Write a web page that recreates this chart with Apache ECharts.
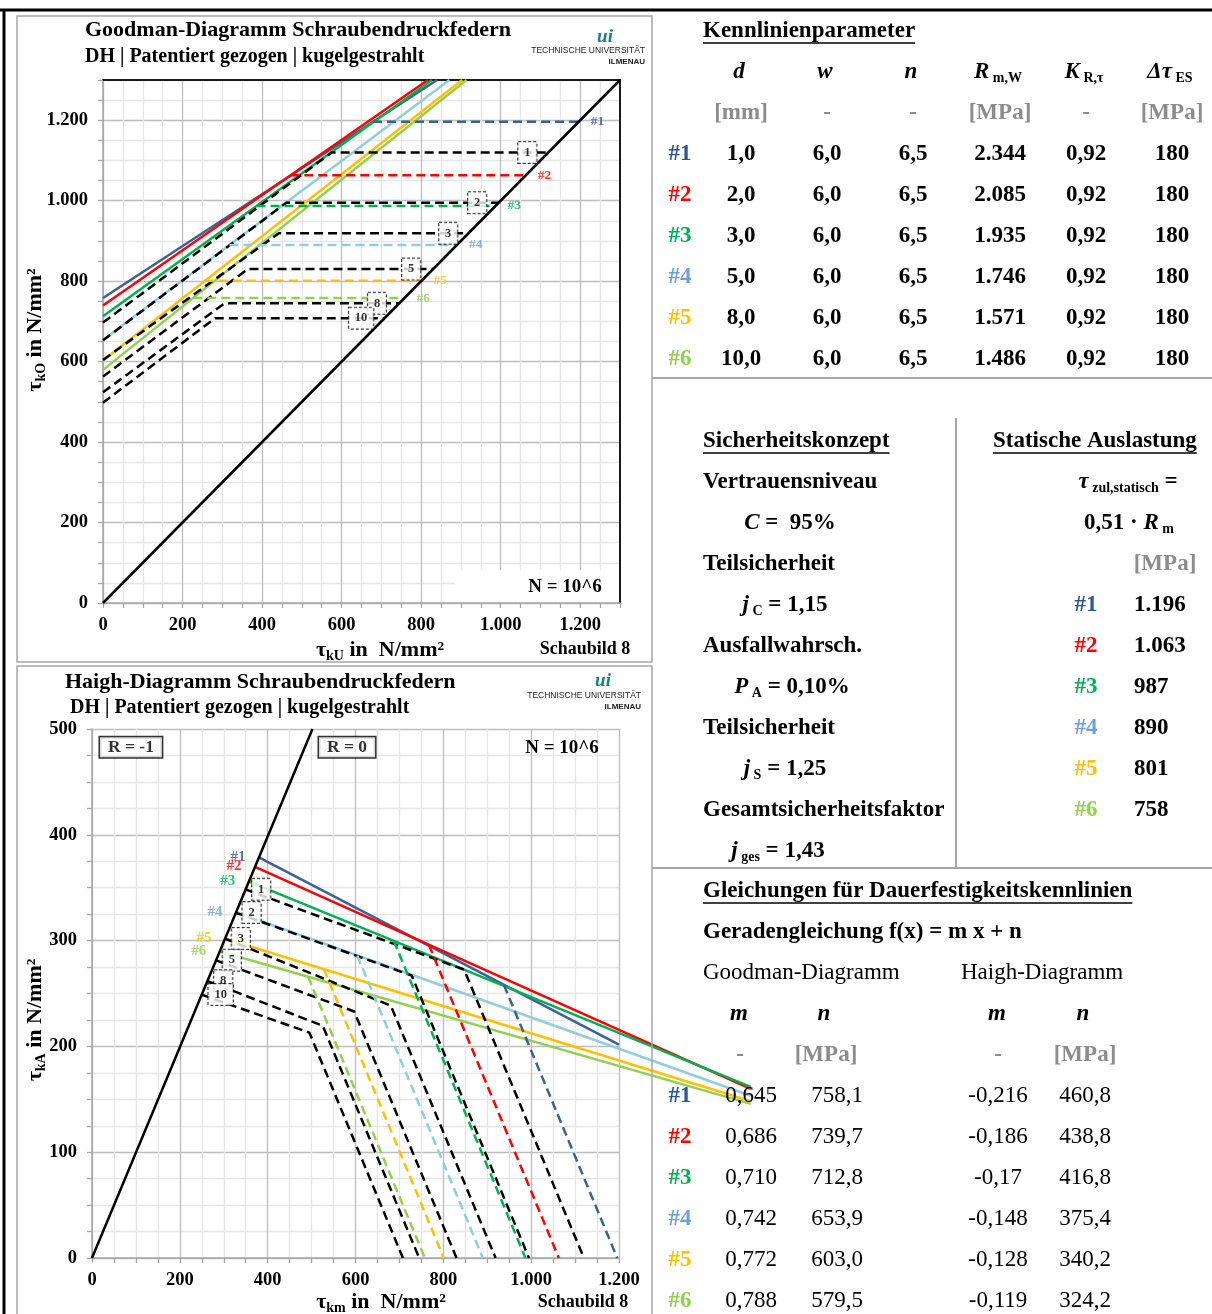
<!DOCTYPE html>
<html><head><meta charset="utf-8">
<script src="https://cdn.jsdelivr.net/npm/echarts/dist/echarts.min.js"></script>
<style>html,body{margin:0;padding:0;background:#fff}#c{width:1212px;height:1314px}</style>
</head><body><div id="c"></div>
<script>
// ---------------- DATA ----------------
const seriesNames = ['#1','#2','#3','#4','#5','#6'];
const wireD  = ['1,0','2,0','3,0','5,0','8,0','10,0'];
const wVals  = ['6,0','6,0','6,0','6,0','6,0','6,0'];
const nVals  = ['6,5','6,5','6,5','6,5','6,5','6,5'];
const rmW    = ['2.344','2.085','1.935','1.746','1.571','1.486'];
const kR     = ['0,92','0,92','0,92','0,92','0,92','0,92'];
const dTauES = ['180','180','180','180','180','180'];
const tauZulText = ['1.196','1.063','987','890','801','758'];
const gmM = ['0,645','0,686','0,710','0,742','0,772','0,788'];
const gmN = ['758,1','739,7','712,8','653,9','603,0','579,5'];
const hgM = ['-0,216','-0,186','-0,17','-0,148','-0,128','-0,119'];
const hgN = ['460,8','438,8','416,8','375,4','340,2','324,2'];

// static limit tau_zul per series (MPa)
const tauZul = [1196,1063,987,890,801,758];
// Goodman: colored limit lines
const gStartY = [758.1,739.7,712.8,653.9,603.0,579.5];
const gTopX   = [840,817,827,871,903,914];
const gTopY   = [1300,1300,1300,1300,1300,1300];
const gKneeX  = [679,471,386,318,256,227];
// Goodman: black dashed reference lines (wire diameters)
const refLabels = ['1','2','3','5','8','10'];
const refStartY = [697,653,604,563,524,498];
const refKneeX  = [575,461,442,364,306,282];
const refLevel  = [1120,995,919,830,745,708];
const refBoxX   = [1067,941,868,775,689,649];
const diagG = [[0,0],[1300,1300]];
// Haigh: colored lines
const hStart = [379,370,356,327,302,290];
const hEndX  = [1200,1500,1500,1500,1500,1500];
const hEndY  = [201.6,159.8,161.8,153.4,148.2,145.7];
const hKneeX = [938,767,687,604,528,492];
const hKneeY = [258,296,300,286,273,266];
// Haigh: black dashed reference lines
const refHStart = [348.5,326.5,302,281.5,262,249];
const refHKneeX = [847.5,728,680.5,597,525.5,495];
const refHKneeY = [272.5,267,238.5,233,219.5,213];
const diagH = [[0,0],[502,500]];
const rBoxes = [['R = -1',88.6,482.7],['R = 0',580.7,482.7]];

// ---------------- STYLE ----------------
const F = '"Liberation Serif","Times New Roman",serif';
const FS = '"Liberation Sans",Arial,sans-serif';
const lineColors  = ['#3C6098','#FF0000','#00B050','#92CDDC','#FFC000','#92D050'];
const labelColors = ['#2F5597','#FF0000','#00B050','#6F9FDA','#FFC000','#92D050'];
const GRAY = '#8C8C8C';
const MAJ = '#BDBDBD', MIN = '#E6E6E6';
const TS = 23; // table font size

const fmt = v => v >= 1000 ? Math.floor(v/1000) + '.' + String(v%1000).padStart(3,'0') : String(v);

function valAxis(grid, pos, max, interval, labelEvery) {
  return {
    type:'value', gridIndex:grid, position:pos, min:0, max:max, interval:interval,
    axisLine:{show:true, onZero:false, lineStyle:{color:'#A6A6A6', width:1.5}},
    axisTick:{show:true, length:5, lineStyle:{color:'#A6A6A6', width:1.3}},
    axisLabel:{show:true, margin:pos==='left'?15:13, color:'#000', fontWeight:'bold', fontSize:18.5, fontFamily:F,
      formatter: v => (v % labelEvery === 0 && v <= max - (max % labelEvery)) ? fmt(v) : ''},
    splitLine:{show:true, lineStyle:{color:[MAJ,MIN,MIN,MIN], width:1.3}}
  };
}
function borderAxis(grid, pos, max) {
  return {type:'value', gridIndex:grid, position:pos, min:0, max:max,
    axisLine:{show:true, onZero:false, lineStyle:{color:'#1a1a1a', width:2}},
    axisTick:{show:false}, axisLabel:{show:false}, splitLine:{show:false}};
}
function hiddenAxis(grid, max) {
  return {type:'value', gridIndex:grid, min:0, max:max, show:false};
}

const series = [];
function line(xi, data, color, width, dashed, z) {
  series.push({type:'line', xAxisIndex:xi, yAxisIndex:xi, data:data, symbol:'none', silent:true, z:z,
    lineStyle:{color:color, width:width, type: dashed ? [9,5] : 'solid', cap:'butt'},
    emphasis:{disabled:true}});
}
function labels(xi, data, lab) {
  series.push({type:'scatter', xAxisIndex:xi, yAxisIndex:xi, symbolSize:0.1, silent:true, z:8, clip:false,
    itemStyle:{color:'transparent'}, data:data, emphasis:{disabled:true},
    label:Object.assign({show:true, formatter:p => p.name, fontFamily:F, fontWeight:'bold', color:'#000'}, lab)});
}
const boxLab = {fontSize:12.5, lineHeight:14, padding:[4,6,3,6], backgroundColor:'#fff', borderColor:'#000', borderWidth:1, borderType:[3,2]};

// Goodman (axes index 0)
for (let i=0;i<6;i++) line(0, [[0,gStartY[i]],[gTopX[i],gTopY[i]]], lineColors[i], 2.5, false, 3);
for (let i=0;i<6;i++) line(0, [[0,refStartY[i]],[refKneeX[i],refLevel[i]],[refLevel[i],refLevel[i]]], '#000', 2.5, true, 4);
for (let i=0;i<6;i++) line(0, [[gKneeX[i],tauZul[i]],[tauZul[i],tauZul[i]]], lineColors[i], 2.5, true, 5);
line(0, diagG, '#000', 2.5, false, 6);
labels(0, seriesNames.map((n,i)=>({name:n, value:[tauZul[i],tauZul[i]], label:{color:labelColors[i]}})),
  {position:'right', distance:12, fontSize:13.5});
labels(0, refLabels.map((n,i)=>({name:n, value:[refBoxX[i],refLevel[i]]})),
  Object.assign({position:'inside'}, boxLab));

// Haigh (axes index 2 = visible, 3 = wide overlay 0..1500 for lines running past the plot)
for (let i=0;i<6;i++) line(3, [[hStart[i],hStart[i]],[hEndX[i],hEndY[i]]], lineColors[i], 2.5, false, 3);
for (let i=0;i<6;i++) line(2, [[refHStart[i],refHStart[i]],[refHKneeX[i],refHKneeY[i]],[refLevel[i],0]], '#000', 2.5, true, 4);
for (let i=0;i<6;i++) line(2, [[hKneeX[i],hKneeY[i]],[tauZul[i],0]], lineColors[i], 2.5, true, 5);
line(2, diagH, '#000', 2.5, false, 6);
labels(2, seriesNames.map((n,i)=>({name:n, value:[hStart[i],hStart[i]], label:{color:labelColors[i]}})),
  {position:'left', distance:13, fontSize:15});
labels(2, refLabels.map((n,i)=>({name:n, value:[refHStart[i],refHStart[i]]})),
  Object.assign({position:'right', distance:7}, boxLab));
labels(2, rBoxes.map(r=>({name:r[0], value:[r[1],r[2]]})),
  {position:'inside', fontSize:17.5, lineHeight:18, padding:[1,8,1,8], backgroundColor:'#fff', borderColor:'#000', borderWidth:1.5});

// ---------------- GRAPHIC (frames, titles, tables) ----------------
const G = [];
function T(x, y, text, o) {
  o = o || {};
  G.push({type:'text', x:x, y:y, z:o.z||5, silent:true, rotation:o.rot||0,
    style:{text:text, fontSize:o.size||TS, fontWeight:o.w||'bold', fontStyle:o.italic?'italic':'normal',
      fontFamily:o.font||F, fill:o.color||'#000', align:o.align||'center', verticalAlign:'middle',
      rich:o.rich}});
}
function L(x1,y1,x2,y2,color,w) {
  G.push({type:'line', z:4, silent:true, shape:{x1,y1,x2,y2}, style:{stroke:color, lineWidth:w}});
}
function RECT(x,y,w,h,stroke,lw,fill,z) {
  G.push({type:'rect', z:z||4, silent:true, shape:{x,y,width:w,height:h}, style:{stroke:stroke||null, lineWidth:lw||0, fill:fill||'none'}});
}
const mc = document.createElement('canvas').getContext('2d');
function UT(x, y, text) {
  T(x, y, text, {align:'left'});
  mc.font = 'bold ' + TS + 'px ' + F;
  const w = mc.measureText(text).width;
  L(x, y+12, x+w, y+12, '#000', 1.5);
}
const rich = (size) => ({
  b:{fontSize:size, fontWeight:'bold', fontFamily:F, lineHeight:size+4},
  bi:{fontSize:size, fontWeight:'bold', fontStyle:'italic', fontFamily:F, lineHeight:size+4},
  s:{fontSize:Math.round(size*0.62), fontWeight:'bold', fontFamily:F, lineHeight:Math.round(size*0.62)+1, verticalAlign:'bottom'}
});
const RT = rich(TS);

// frames
L(0,10,1212,10,'#000',3);
L(4,10,4,1314,'#000',3);
RECT(17,16,635,646,'#A6A6A6',1.5);
RECT(17,666,635,652,'#A6A6A6',1.5);
L(652,378,1212,378,'#A6A6A6',2);
L(652,868,1212,868,'#A6A6A6',2);
L(956,418,956,868,'#A6A6A6',2);
RECT(455,570,164,32,null,0,'#fff',1);

// chart titles
T(85,30,'Goodman-Diagramm Schraubendruckfedern',{align:'left', size:22});
T(85,57,'DH | Patentiert gezogen | kugelgestrahlt',{align:'left', size:20});
T(65,682,'Haigh-Diagramm Schraubendruckfedern',{align:'left', size:22});
T(70,708,'DH | Patentiert gezogen | kugelgestrahlt',{align:'left', size:20});
// logos
[[605,37,645,51,62],[603,681,641,696,707]].forEach(p=>{
  T(p[0],p[1],'ui',{size:19, italic:true, color:'#1B7F86'});
  T(p[2],p[3],'TECHNISCHE UNIVERSITÄT',{align:'right', size:8.5, w:'normal', font:FS, color:'#222'});
  T(p[2],p[4],'ILMENAU',{align:'right', size:8, w:'bold', font:FS, color:'#222'});
});
// axis names
const axRich = {b:{fontSize:22, fontWeight:'bold', fontFamily:F, lineHeight:26}, s:{fontSize:14, fontWeight:'bold', fontFamily:F, lineHeight:15, verticalAlign:'bottom'}};
T(35,330,'{b|τ}{s|kO}{b| in N/mm²}',{rot:Math.PI/2, rich:axRich});
T(380,650,'{b|τ}{s|kU}{b| in  N/mm²}',{rich:axRich});
T(35,1020,'{b|τ}{s|kA}{b| in N/mm²}',{rot:Math.PI/2, rich:axRich});
T(381,1302,'{b|τ}{s|km}{b| in  N/mm²}',{rich:axRich});
T(585,649,'Schaubild 8',{size:18});
T(583,1302,'Schaubild 8',{size:18});
T(565,587,'N = 10^6',{size:19, z:6});
T(562,748,'N = 10^6',{size:19});

// Kennlinienparameter
UT(703,31,'Kennlinienparameter');
const colX = [741,827,913,1000,1086,1172];
const heads = ['{bi|d}','{bi|w}','{bi|n}','{bi|R}{s| m,W}','{bi|K}{s| R,τ}','{bi|Δτ}{s| ES}'];
const units = ['[mm]','-','-','[MPa]','-','[MPa]'];
heads.forEach((h,j)=>T(colX[j]-2,72,h,{rich:RT}));
units.forEach((u,j)=>T(colX[j],113,u,{color:GRAY}));
for (let i=0;i<6;i++) {
  const y = 154 + 41*i;
  T(680,y,seriesNames[i],{color:labelColors[i]});
  [wireD[i],wVals[i],nVals[i],rmW[i],kR[i],dTauES[i]].forEach((v,j)=>T(colX[j],y,v));
}

// Sicherheitskonzept / Statische Auslastung
UT(703,441,'Sicherheitskonzept');
UT(993,441,'Statische Auslastung');
const safetyLeft = ['Vertrauensniveau','Teilsicherheit','Ausfallwahrsch.','Teilsicherheit','Gesamtsicherheitsfaktor'];
const safetyVals = ['{bi|C}{b| =  95%}','{bi|j}{s| C}{b| = 1,15}','{bi|P}{s| A}{b| = 0,10%}','{bi|j}{s| S}{b| = 1,25}','{bi|j}{s| ges}{b| = 1,43}'];
const safetyValX = [790,785,792,785,778];
safetyLeft.forEach((t,k)=>T(703,482+82*k,t,{align:'left'}));
safetyVals.forEach((t,k)=>T(safetyValX[k],523+82*k,t,{rich:RT}));
T(1128,482,'{bi|τ}{s| zul,statisch}{b| =}',{rich:RT});
T(1129,523,'{b|0,51 · }{bi|R}{s| m}',{rich:RT});
T(1165,564,'[MPa]',{color:GRAY});
for (let i=0;i<6;i++) {
  const y = 605 + 41*i;
  T(1086,y,seriesNames[i],{color:labelColors[i]});
  T(1134,y,tauZulText[i],{align:'left'});
}

// Gleichungen
UT(703,891,'Gleichungen für Dauerfestigkeitskennlinien');
T(703,932,'Geradengleichung f(x) = m x + n',{align:'left'});
T(703,973,'Goodman-Diagramm',{align:'left', w:'normal'});
T(961,973,'Haigh-Diagramm',{align:'left', w:'normal'});
const eqX = [751,837,998,1085];
[[739,'m'],[824,'n'],[997,'m'],[1083,'n']].forEach(p=>T(p[0],1014,p[1],{italic:true}));
[[740,'-'],[826,'[MPa]'],[998,'-'],[1085,'[MPa]']].forEach(p=>T(p[0],1055,p[1],{color:GRAY}));
for (let i=0;i<6;i++) {
  const y = 1096 + 41*i;
  T(680,y,seriesNames[i],{color:labelColors[i]});
  [gmM[i],gmN[i],hgM[i],hgN[i]].forEach((v,j)=>T(eqX[j],y,v,{w:'normal'}));
}

// ---------------- OPTION ----------------
const chart = echarts.init(document.getElementById('c'), null, {renderer:'canvas', width:1212, height:1314});
chart.setOption({
  animation:false,
  backgroundColor:'#fff',
  grid:[
    {left:103, top:80, width:517, height:523, containLabel:false, outerBoundsMode:'none'},
    {left:92, top:729, width:527, height:529, containLabel:false, outerBoundsMode:'none'},
    {left:92, top:729, width:527*1500/1200, height:529, containLabel:false, outerBoundsMode:'none'}
  ],
  xAxis:[
    valAxis(0,'bottom',1300,50,200),
    borderAxis(0,'top',1300),
    valAxis(1,'bottom',1200,50,200),
    hiddenAxis(2,1500)
  ],
  yAxis:[
    valAxis(0,'left',1300,50,200),
    borderAxis(0,'right',1300),
    valAxis(1,'left',500,25,100),
    hiddenAxis(2,500)
  ],
  graphic:{elements:G},
  series:series
});
</script></body></html>
